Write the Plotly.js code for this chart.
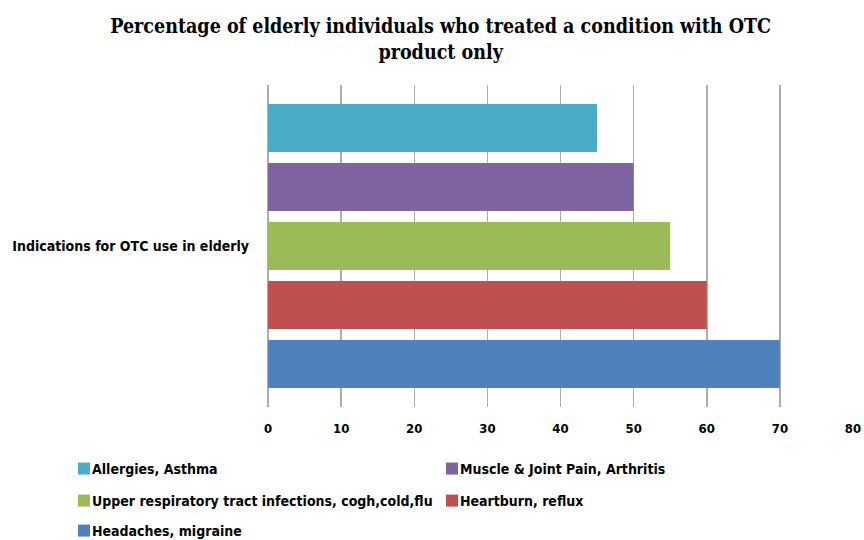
<!DOCTYPE html>
<html><head><meta charset="utf-8">
<script src="https://cdn.plot.ly/plotly-3.0.1.min.js"></script>
<style>
body{margin:0;background:#fff}#chart{width:864px;height:540px}
#chart text.legendtext,#chart text.legend2text,#chart text.legend3text{transform:translateX(-12px)}
</style>
</head><body><div id="chart"></div>
<script>
const category = ['Indications for OTC use in elderly'];
const seriesNames = ['Headaches, migraine', 'Heartburn, reflux', 'Upper respiratory tract infections, cogh,cold,flu', 'Muscle & Joint Pain, Arthritis', 'Allergies, Asthma'];
const seriesValues = [70, 60, 55, 50, 45];
const seriesColors = ['#4F81BD', '#C0504D', '#9BBB59', '#8064A2', '#4BACC6'];
const legendGroups = ['legend3', 'legend2', 'legend2', 'legend', 'legend'];
const xTicks = [0, 10, 20, 30, 40, 50, 60, 70, 80];

const FONT = '"DejaVu Sans Condensed", "DejaVu Sans", sans-serif';

const traces = seriesNames.map((n, i) => ({
  type: 'bar', orientation: 'h', name: n,
  y: category, x: [seriesValues[i]],
  marker: {color: seriesColors[i]},
  legend: legendGroups[i],
  hoverinfo: 'x+name'
}));

const legendBase = {
  orientation: 'h', xref: 'paper', yref: 'paper', xanchor: 'left', yanchor: 'middle',
  entrywidth: 323, entrywidthmode: 'pixels', traceorder: 'reversed',
  font: {family: FONT, size: 14, color: '#000', weight: 'bold'},
  itemwidth: 30, bgcolor: 'rgba(0,0,0,0)'
};
const W = 585, H = 322, LX = (64 - 268) / W;
const layout = {
  width: 864, height: 540,
  margin: {l: 268, r: 11, t: 85, b: 133, autoexpand: false},
  paper_bgcolor: '#fff', plot_bgcolor: '#fff',
  title: {
    text: '<b>Percentage of elderly individuals who treated a condition with OTC<br>product only</b>',
    x: 0.51, xref: 'container', xanchor: 'center', y: 0.938, yref: 'container', yanchor: 'middle',
    font: {family: '"DejaVu Serif Condensed", "DejaVu Serif", serif', size: 19.5, color: '#000'}
  },
  barmode: 'group', bargap: 0.084, bargroupgap: 0.186,
  xaxis: {
    range: [0, 80], tickvals: xTicks, ticktext: xTicks.map(String),
    showgrid: true, gridcolor: '#ADADAD', gridwidth: 1.5,
    zeroline: true, zerolinecolor: '#ADADAD', zerolinewidth: 1.5,
    showline: false, ticks: '', ticklabelstandoff: 12,
    tickfont: {family: FONT, size: 13, color: '#000', weight: 'bold'}, fixedrange: true
  },
  yaxis: {
    showgrid: false, showline: false, ticks: '', ticklabelstandoff: 18,
    tickfont: {family: FONT, size: 14, color: '#000', weight: 'bold'}, fixedrange: true
  },
  legend: Object.assign({}, legendBase, {x: LX, y: (407 - 469) / H}),
  legend2: Object.assign({}, legendBase, {x: LX, y: (407 - 501) / H}),
  legend3: Object.assign({}, legendBase, {x: LX, y: (407 - 531) / H}),
  showlegend: true
};

Plotly.newPlot('chart', traces, layout, {displayModeBar: false, staticPlot: true});
</script></body></html>
